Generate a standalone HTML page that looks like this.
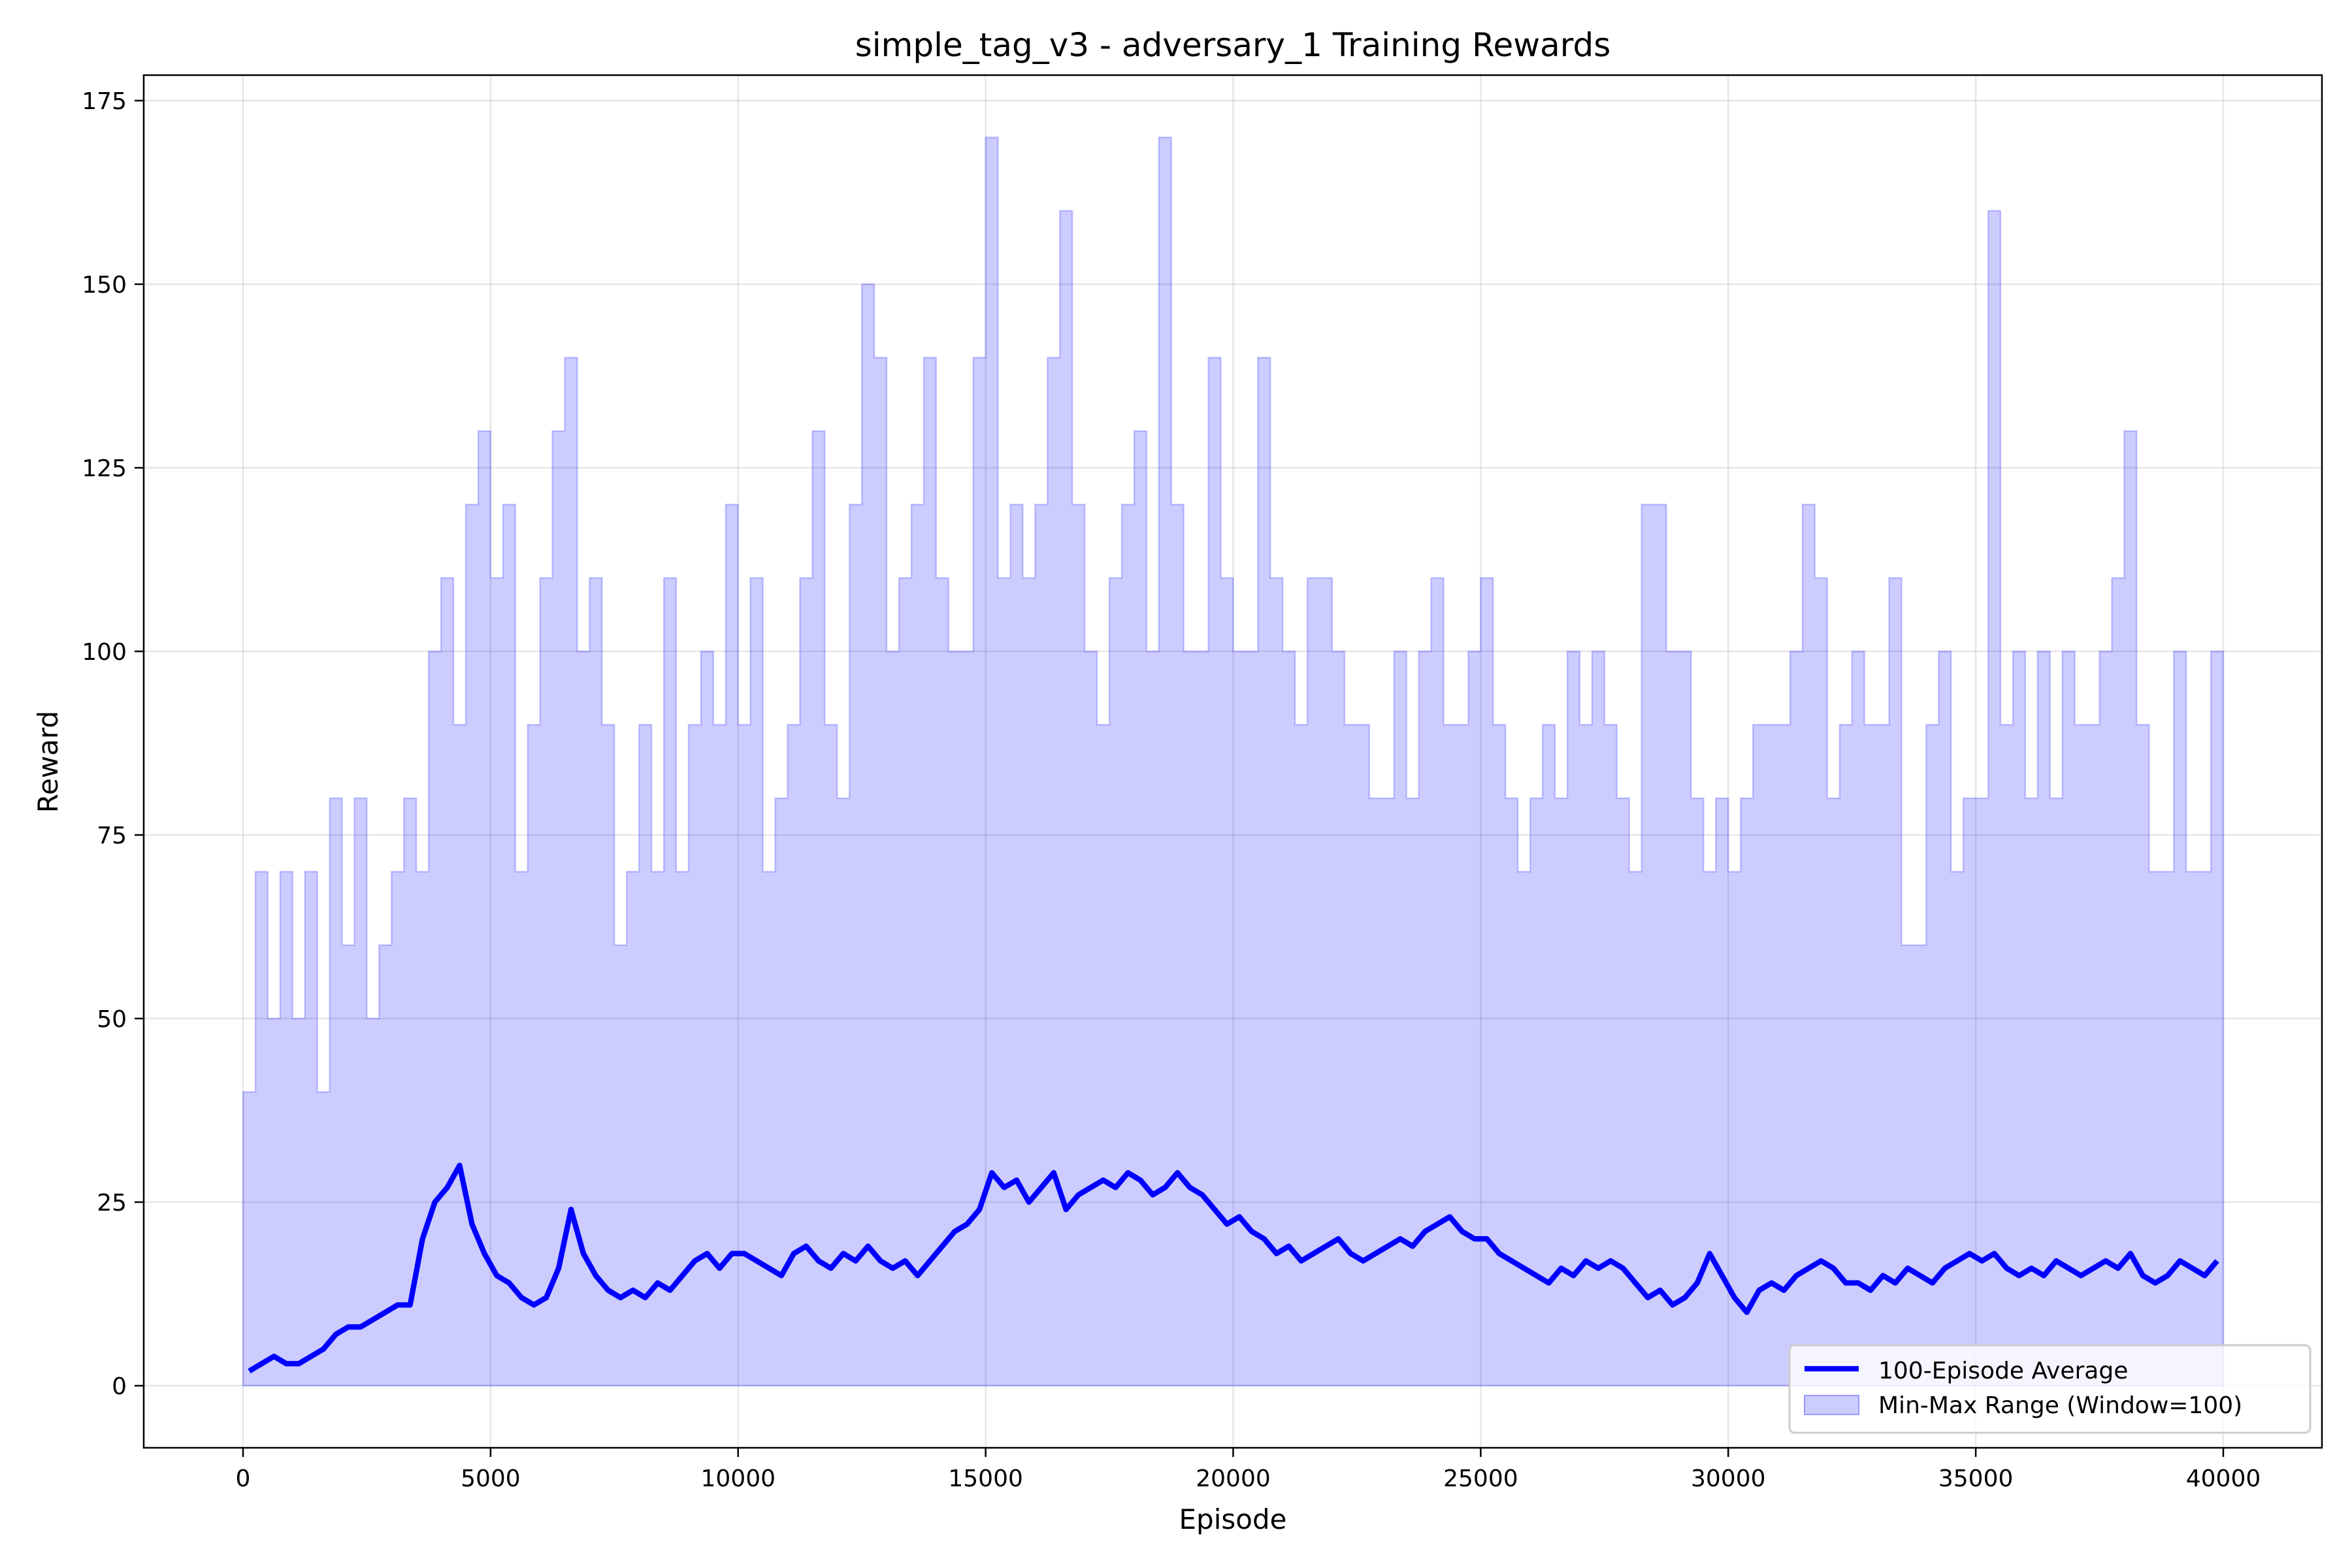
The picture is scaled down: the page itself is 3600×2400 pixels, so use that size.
<!DOCTYPE html>
<html><head><meta charset="utf-8"><style>body{margin:0;background:#fff}svg{display:block;font-family:"DejaVu Sans","Liberation Sans",sans-serif}</style></head>
<body>
<svg id="chart" width="3600" height="2400">
<rect width="3600" height="2400" fill="#fff"/>
<g id="grid"></g><g id="marks"></g><g id="axes"></g>
<text x="1887" y="86" font-size="50" text-anchor="middle">simple_tag_v3 - adversary_1 Training Rewards</text>
<text x="1887" y="2340" font-size="42" text-anchor="middle">Episode</text>
<text transform="translate(88,1166) rotate(-90)" font-size="42" text-anchor="middle">Reward</text>
<g>
<rect x="2739" y="2059" width="797" height="134" rx="8" fill="#fff" fill-opacity="0.8" stroke="#ccc" stroke-width="3"/>
<line x1="2762" y1="2095" x2="2845" y2="2095" stroke="#0000ff" stroke-width="8.3"/>
<text x="2875" y="2110" font-size="36">100-Episode Average</text>
<rect x="2762" y="2136" width="83" height="29" fill="#ccccff" stroke="#9999ff" stroke-width="2"/>
<text x="2875" y="2163" font-size="36">Min-Max Range (Window=100)</text>
</g>
</svg>
<script>
const maxVals=[40,70,50,70,50,70,40,80,60,80,
50,60,70,80,70,100,110,90,120,130,
110,120,70,90,110,130,140,100,110,90,
60,70,90,70,110,70,90,100,90,120,
90,110,70,80,90,110,130,90,80,120,
150,140,100,110,120,140,110,100,100,140,
170,110,120,110,120,140,160,120,100,90,
110,120,130,100,170,120,100,100,140,110,
100,100,140,110,100,90,110,110,100,90,
90,80,80,100,80,100,110,90,90,100,
110,90,80,70,80,90,80,100,90,100,
90,80,70,120,120,100,100,80,70,80,
70,80,90,90,90,100,120,110,80,90,
100,90,90,110,60,60,90,100,70,80,
80,160,90,100,80,100,80,100,90,90,
100,110,130,90,70,70,100,70,70,100];
const meanVals=[2,3,4,3,3,4,5,7,8,8,
9,10,11,11,20,25,27,30,22,18,
15,14,12,11,12,16,24,18,15,13,
12,13,12,14,13,15,17,18,16,18,
18,17,16,15,18,19,17,16,18,17,
19,17,16,17,15,17,19,21,22,24,
29,27,28,25,27,29,24,26,27,28,
27,29,28,26,27,29,27,26,24,22,
23,21,20,18,19,17,18,19,20,18,
17,18,19,20,19,21,22,23,21,20,
20,18,17,16,15,14,16,15,17,16,
17,16,14,12,13,11,12,14,18,15,
12,10,13,14,13,15,16,17,16,14,
14,13,15,14,16,15,14,16,17,18,
17,18,16,15,16,15,17,16,15,16,
17,16,18,15,14,15,17,16,15,17];
const step=250;
const xTicks=[0,5000,10000,15000,20000,25000,30000,35000,40000];
const yTicks=[0,25,50,75,100,125,150,175];
const X=v=>372+(v/40000)*(3403-372);
const Y=v=>2121-(v/175)*(2121-154);
const NS='http://www.w3.org/2000/svg';
function mk(p,t,a){const e=document.createElementNS(NS,t);for(const k in a)e.setAttribute(k,a[k]);p.appendChild(e);return e;}
const grid=document.getElementById('grid'),marks=document.getElementById('marks'),axes=document.getElementById('axes');
xTicks.forEach(t=>{const g=mk(grid,'line',{x1:X(t),x2:X(t),y1:115,y2:2216,stroke:'#b0b0b0','stroke-opacity':0.3,'stroke-width':2.5});


mk(axes,'line',{x1:X(t),x2:X(t),y1:2216,y2:2230,stroke:'#000','stroke-width':2.5});
const tx=mk(axes,'text',{x:X(t),y:2275,'font-size':36,'text-anchor':'middle'});tx.textContent=t;

});
yTicks.forEach(t=>{const g=mk(grid,'line',{x1:220,x2:3554,y1:Y(t),y2:Y(t),stroke:'#b0b0b0','stroke-opacity':0.3,'stroke-width':2.5});


mk(axes,'line',{x1:206,x2:220,y1:Y(t),y2:Y(t),stroke:'#000','stroke-width':2.5});
const tx=mk(axes,'text',{x:194,y:Y(t)+13,'font-size':36,'text-anchor':'end'});tx.textContent=t;

});
let d='M'+X(0)+','+Y(0);
maxVals.forEach((v,i)=>{d+=' L'+X(i*step)+','+Y(v)+' L'+X((i+1)*step)+','+Y(v);});
d+=' L'+X(maxVals.length*step)+','+Y(0)+' Z';
const band=mk(marks,'path',{d:d,fill:'#0000ff','fill-opacity':0.2,stroke:'#0000ff','stroke-opacity':0.2,'stroke-width':2.5});


let m='';meanVals.forEach((v,i)=>{m+=(i?' L':'M')+X(i*step+step/2)+','+Y(v);});
const line=mk(marks,'path',{d:m,fill:'none',stroke:'#0000ff','stroke-width':8.3,'stroke-linejoin':'round'});


const fr=mk(axes,'rect',{x:220,y:115,width:3334,height:2101,fill:'none',stroke:'#000','stroke-width':2.5});


</script>
</body></html>
